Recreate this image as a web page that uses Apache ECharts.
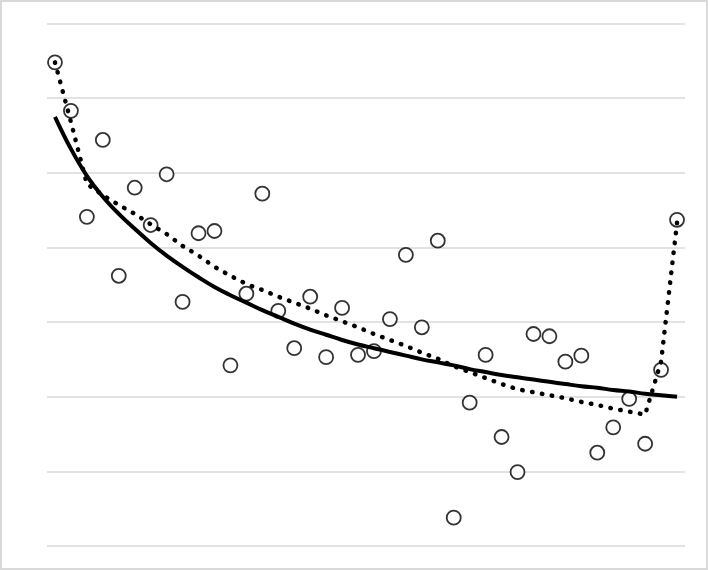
<!DOCTYPE html>
<html>
<head>
<meta charset="utf-8">
<script src="https://cdn.jsdelivr.net/npm/echarts@6/dist/echarts.min.js"></script>
<style>
    html, body { margin: 0; padding: 0; background: #fff; }
    #chart { position: absolute; left: 0; top: 0; width: 708px; height: 570px; }
    #frame { position: absolute; left: 0; top: 0; width: 708px; height: 570px;
             box-sizing: border-box; border: 2px solid #d9d9d9; pointer-events: none; }
</style>
</head>
<body>
<div id="chart"></div>
<div id="frame"></div>
<script>
// x categories (one per observation)
var categories = ['1', '2', '3', '4', '5', '6', '7', '8', '9', '10',
    '11', '12', '13', '14', '15', '16', '17', '18', '19', '20',
    '21', '22', '23', '24', '25', '26', '27', '28', '29', '30',
    '31', '32', '33', '34', '35', '36', '37', '38', '39', '40'];

// observed values (open circles)
var observed = [6.48, 5.83, 4.41, 5.44, 3.62, 4.80, 4.30, 4.98, 3.27, 4.19,
    4.22, 2.42, 3.38, 4.72, 3.15, 2.65, 3.34, 2.53, 3.19, 2.56,
    2.61, 3.04, 3.90, 2.93, 4.09, 0.38, 1.92, 2.56, 1.46, 0.99,
    2.84, 2.81, 2.47, 2.55, 1.25, 1.59, 1.97, 1.37, 2.36, 4.37];

// solid trend line
var trendSolid = [5.75, 5.32, 4.96, 4.68, 4.45, 4.25, 4.06, 3.89, 3.74, 3.60,
    3.47, 3.36, 3.26, 3.16, 3.07, 2.98, 2.90, 2.83, 2.76, 2.70,
    2.65, 2.60, 2.55, 2.50, 2.46, 2.42, 2.37, 2.33, 2.29, 2.26,
    2.23, 2.20, 2.17, 2.14, 2.12, 2.09, 2.07, 2.04, 2.02, 2.00];

// dotted trend line
var trendDotted = [6.48, 5.68, 4.85, 4.70, 4.57, 4.45, 4.31, 4.18, 4.02, 3.89,
    3.74, 3.62, 3.51, 3.43, 3.34, 3.26, 3.18, 3.09, 3.01, 2.93,
    2.84, 2.76, 2.68, 2.59, 2.51, 2.41, 2.33, 2.25, 2.17, 2.10,
    2.06, 2.02, 1.98, 1.93, 1.89, 1.84, 1.80, 1.76, 2.47, 4.33];

// y axis range
var yMin = 0, yMax = 7, yStep = 1;

var myChart = echarts.init(document.getElementById('chart'));

var option = {
    backgroundColor: '#fff',
    animation: false,
    grid: { left: 47, right: 23, top: 23.5, bottom: 24 },
    xAxis: {
        type: 'category',
        data: categories,
        boundaryGap: true,
        axisLine: { show: false },
        axisTick: { show: false },
        axisLabel: { show: false },
        splitLine: { show: false }
    },
    yAxis: {
        type: 'value',
        min: yMin,
        max: yMax,
        interval: yStep,
        axisLine: { show: false },
        axisTick: { show: false },
        axisLabel: { show: false },
        splitLine: { show: true, lineStyle: { color: '#d9d9d9', width: 1.5 } }
    },
    series: [
        {
            name: 'observed',
            type: 'scatter',
            data: observed,
            symbol: 'circle',
            symbolSize: 14,
            itemStyle: { color: '#fff', borderColor: '#000', borderWidth: 1.8 },
            z: 2
        },
        {
            name: 'trend',
            type: 'line',
            data: trendSolid,
            smooth: 0.4,
            showSymbol: false,
            lineStyle: { color: '#000', width: 4 },
            z: 3
        },
        {
            name: 'dotted',
            type: 'line',
            data: trendDotted,
            showSymbol: false,
            lineStyle: { color: '#000', width: 4.5, type: [0.5, 9.5], cap: 'round' },
            z: 4
        }
    ]
};

myChart.setOption(option);
</script>
</body>
</html>
